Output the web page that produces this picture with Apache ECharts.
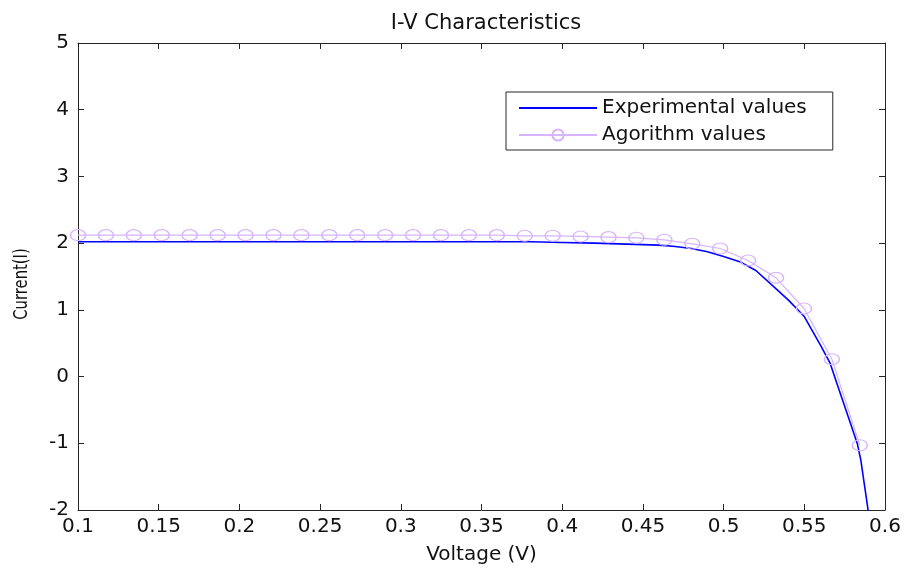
<!DOCTYPE html>
<html>
<head>
<meta charset="utf-8">
<script src="https://cdn.jsdelivr.net/npm/echarts@6/dist/echarts.min.js"></script>
<style>html,body{margin:0;padding:0;background:#fff}#c{width:904px;height:570px}</style>
</head>
<body>
<div id="c"></div>
<script>
// Experimental values (dense measured curve)
var expVoltage = [0.10, 0.15, 0.20, 0.25, 0.30, 0.35, 0.38, 0.40, 0.42, 0.44, 0.46, 0.47, 0.48, 0.49, 0.50, 0.51, 0.52, 0.53, 0.54, 0.55, 0.56, 0.566, 0.57, 0.58, 0.583, 0.585, 0.59];
var expCurrent = [2.02, 2.02, 2.02, 2.02, 2.02, 2.02, 2.02, 2.01, 2.00, 1.985, 1.97, 1.95, 1.92, 1.87, 1.80, 1.72, 1.59, 1.37, 1.15, 0.90, 0.47, 0.20, -0.09, -0.80, -1.02, -1.25, -2.08];
// Algorithm values (marked points)
var algVoltage = [0.1, 0.1173, 0.1346, 0.1519, 0.1692, 0.1865, 0.2038, 0.2211, 0.2384, 0.2557, 0.2730, 0.2903, 0.3076, 0.3249, 0.3422, 0.3595, 0.3768, 0.3941, 0.4114, 0.4287, 0.4460, 0.4633, 0.4806, 0.4979, 0.5152, 0.5325, 0.5498, 0.5671, 0.5844];
var algCurrent = [2.12, 2.12, 2.12, 2.12, 2.12, 2.12, 2.12, 2.12, 2.12, 2.12, 2.12, 2.12, 2.12, 2.12, 2.12, 2.12, 2.11, 2.11, 2.10, 2.09, 2.08, 2.05, 1.99, 1.92, 1.74, 1.48, 1.02, 0.26, -1.03];
var xTicks = [0.1, 0.15, 0.2, 0.25, 0.3, 0.35, 0.4, 0.45, 0.5, 0.55, 0.6];
var yTicks = [-2, -1, 0, 1, 2, 3, 4, 5];

var FONT = 'DejaVu Sans';
function pairs(a, b) { return a.map(function (v, i) { return [v, b[i]]; }); }
var axisCol = '#262626';
var chart = echarts.init(document.getElementById('c'), null, { renderer: 'canvas' });
var baseX = {
  type: 'value', min: 0.1, max: 0.6, interval: 0.05,
  axisLine: { show: true, onZero: false, lineStyle: { color: axisCol, width: 1 } },
  axisTick: { show: true, inside: true, length: 6, lineStyle: { color: axisCol } },
  splitLine: { show: false }
};
var baseY = {
  type: 'value', min: -2, max: 5, interval: 1,
  axisLine: { show: true, onZero: false, lineStyle: { color: axisCol, width: 1 } },
  axisTick: { show: true, inside: true, length: 6, lineStyle: { color: axisCol } },
  splitLine: { show: false }
};
chart.setOption({
  animation: false,
  backgroundColor: '#fff',
  title: {
    text: 'I-V Characteristics', left: 481, top: 8, textAlign: 'center',
    textStyle: { fontFamily: FONT, fontSize: 21, fontWeight: 'normal', color: '#111' }
  },
  grid: { left: 78, right: 19, top: 43, bottom: 50 },
  xAxis: [
    Object.assign({}, baseX, {
      position: 'bottom',
      name: 'Voltage (V)', nameLocation: 'middle', nameGap: 35,
      nameTextStyle: { fontFamily: FONT, fontSize: 20, color: '#111' },
      axisLabel: { fontFamily: FONT, fontSize: 20, color: '#111', margin: 7,
        formatter: function (v) { return String(+v.toFixed(2)); } }
    }),
    Object.assign({}, baseX, { position: 'top', axisLabel: { show: false } })
  ],
  yAxis: [
    Object.assign({}, baseY, {
      position: 'left',
      axisLabel: { fontFamily: FONT, fontSize: 20, color: '#111', margin: 9 }
    }),
    Object.assign({}, baseY, { position: 'right', axisLabel: { show: false } })
  ],
  legend: {
    show: true, orient: 'vertical', left: 506, top: 92, right: 'auto', bottom: 'auto',
    itemWidth: 78, itemHeight: 14, itemGap: 7,
    padding: [6, 26, 5, 12],
    backgroundColor: '#fff', borderColor: axisCol, borderWidth: 1, borderRadius: 0,
    textStyle: { fontFamily: FONT, fontSize: 20, color: '#111' },
    data: [
      { name: 'Experimental values', itemStyle: { opacity: 0 } },
      { name: 'Agorithm values' }
    ]
  },
  graphic: [{
    type: 'text', x: 22, y: 284, rotation: Math.PI / 2, scaleX: 0.74,
    style: { text: 'Current(I)', font: '20px "DejaVu Sans"', fill: '#111', align: 'center', verticalAlign: 'middle' }
  }],
  series: [
    {
      name: 'Experimental values', type: 'line', data: pairs(expVoltage, expCurrent),
      showSymbol: false, symbol: 'none', smooth: false,
      lineStyle: { color: '#0000ff', width: 1.6 },
      itemStyle: { color: '#0000ff' }, z: 2
    },
    {
      name: 'Agorithm values', type: 'line', data: pairs(algVoltage, algCurrent),
      symbol: 'circle', symbolSize: [15, 11], showAllSymbol: true,
      lineStyle: { color: '#d6b4ff', width: 1.2 },
      itemStyle: { color: 'rgba(255,255,255,0)', borderColor: '#d6b4ff', borderWidth: 1.3 }, z: 3
    }
  ]
});
</script>
</body>
</html>
